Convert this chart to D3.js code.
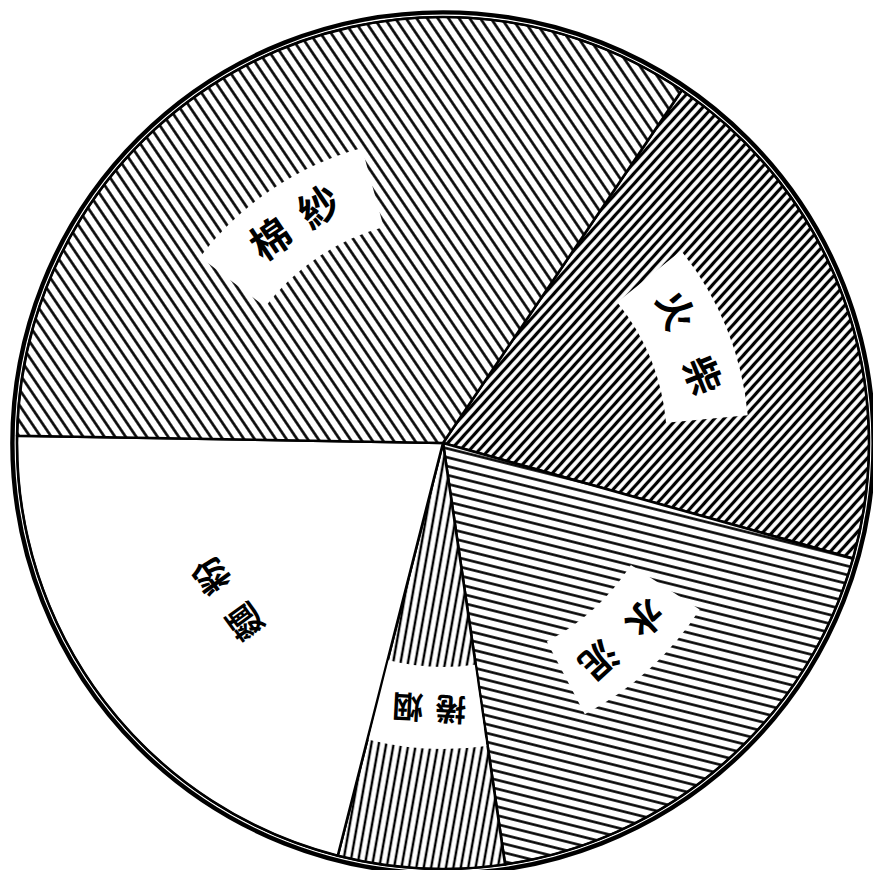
<!DOCTYPE html>
<html lang="zh-Hant">
<head>
    <meta charset="utf-8">
    <script src="https://d3js.org/d3.v7.min.js"></script>
    <style>
        body { margin: 0; background: #fff; }
    </style>
</head>
<body>
    <script type="text/javascript">

        let w = 873;
        let h = 870;
        let cx = 443, cy = 443;
        let r = 426;

        // shares in percent, clockwise from the 火柴 wedge
        let categories = ["火柴", "水泥", "捲烟", "麵粉", "棉紗"];
        let values = [19.9, 18.3, 6.3, 21.3, 34.2];
        let startDeg = 34.1;

        // hatching per wedge (null = plain white)
        let hatch = [
            {rot: 42, gap: 7, sw: 3.2},    // 火柴
            {rot: -76, gap: 8.6, sw: 2.5}, // 水泥
            {rot: 10, gap: 7.3, sw: 2.4},  // 捲烟
            null,                          // 麵粉
            {rot: -34, gap: 8.8, sw: 2.6}  // 棉紗
        ];

        // label tweaks: shift of label angle (deg), white box half width (px, -1 = whole wedge), char step, font size
        let labelShift = [-2, -1, 0, 1.5, -6.5];
        let boxHalf = [78, 68, -1, 0, 86];
        let charStep = [70, 61, 43, 57, 58];
        let fontSize = [38, 37, 31, 35, 40];

        let svg = d3.select("body").append("svg")
                    .attr("width", w)
                    .attr("height", h);

        svg.append("rect").attr("width", w).attr("height", h).attr("fill", "#fff");

        let defs = svg.append("defs");
        hatch.forEach(function (hs, i) {
            if (!hs) return;
            let p = defs.append("pattern")
                .attr("id", "hatch" + i)
                .attr("patternUnits", "userSpaceOnUse")
                .attr("width", hs.gap)
                .attr("height", hs.gap)
                .attr("patternTransform", "rotate(" + hs.rot + ")");
            p.append("rect").attr("width", hs.gap).attr("height", hs.gap).attr("fill", "#fff");
            p.append("line")
                .attr("x1", hs.gap / 2).attr("y1", -1)
                .attr("x2", hs.gap / 2).attr("y2", hs.gap + 1)
                .attr("stroke", "#000")
                .attr("stroke-width", hs.sw);
        });

        let rad = Math.PI / 180;
        let pie = d3.pie()
                    .sort(null)
                    .value(function (d) { return d; })
                    .startAngle(startDeg * rad)
                    .endAngle(startDeg * rad + 2 * Math.PI);

        let arcs = pie(values);
        let arc = d3.arc().innerRadius(0).outerRadius(r);

        let g = svg.append("g").attr("transform", "translate(" + cx + "," + cy + ")");

        g.selectAll("path.slice")
            .data(arcs)
            .join("path")
                .attr("class", "slice")
                .attr("d", arc)
                .attr("fill", function (d, i) {
                    return hatch[i] ? "url(#hatch" + i + ")" : "#fff";
                })
                .attr("stroke", "#000")
                .attr("stroke-width", 2.6)
                .attr("stroke-linejoin", "round");

        // white label boxes
        let labelR = 265;
        let boxArc = d3.arc().innerRadius(224).outerRadius(306);

        arcs.forEach(function (d, i) {
            if (boxHalf[i] === 0) return;
            let mid = (d.startAngle + d.endAngle) / 2 + labelShift[i] * rad;
            let s, e;
            if (boxHalf[i] < 0) {
                s = d.startAngle + 0.004;
                e = d.endAngle - 0.004;
            } else {
                s = mid - boxHalf[i] / labelR;
                e = mid + boxHalf[i] / labelR;
            }
            g.append("path")
                .attr("d", boxArc({startAngle: s, endAngle: e}))
                .attr("fill", "#fff");
        });

        // labels, tops facing outward
        arcs.forEach(function (d, i) {
            let mid = (d.startAngle + d.endAngle) / 2 + labelShift[i] * rad;
            let x = labelR * Math.sin(mid);
            let y = -labelR * Math.cos(mid);
            let lg = g.append("g")
                .attr("transform", "translate(" + x + "," + y + ") rotate(" + (mid / rad) + ")");
            let chars = categories[i].split("");
            lg.selectAll("text")
                .data(chars)
                .join("text")
                    .text(function (c) { return c; })
                    .attr("x", function (c, j) { return (j - (chars.length - 1) / 2) * charStep[i]; })
                    .attr("y", 0)
                    .attr("dy", "0.36em")
                    .attr("text-anchor", "middle")
                    .attr("font-family", "'Noto Sans CJK TC', 'Noto Sans CJK SC', sans-serif")
                    .attr("font-weight", 700)
                    .attr("font-size", fontSize[i])
                    .attr("fill", "#000");
        });

        // double rim
        g.append("circle").attr("r", r).attr("fill", "none").attr("stroke", "#000").attr("stroke-width", 2);
        g.append("circle").attr("r", r + 4.6).attr("fill", "none").attr("stroke", "#000").attr("stroke-width", 4.4);

    </script>
</body>
</html>
